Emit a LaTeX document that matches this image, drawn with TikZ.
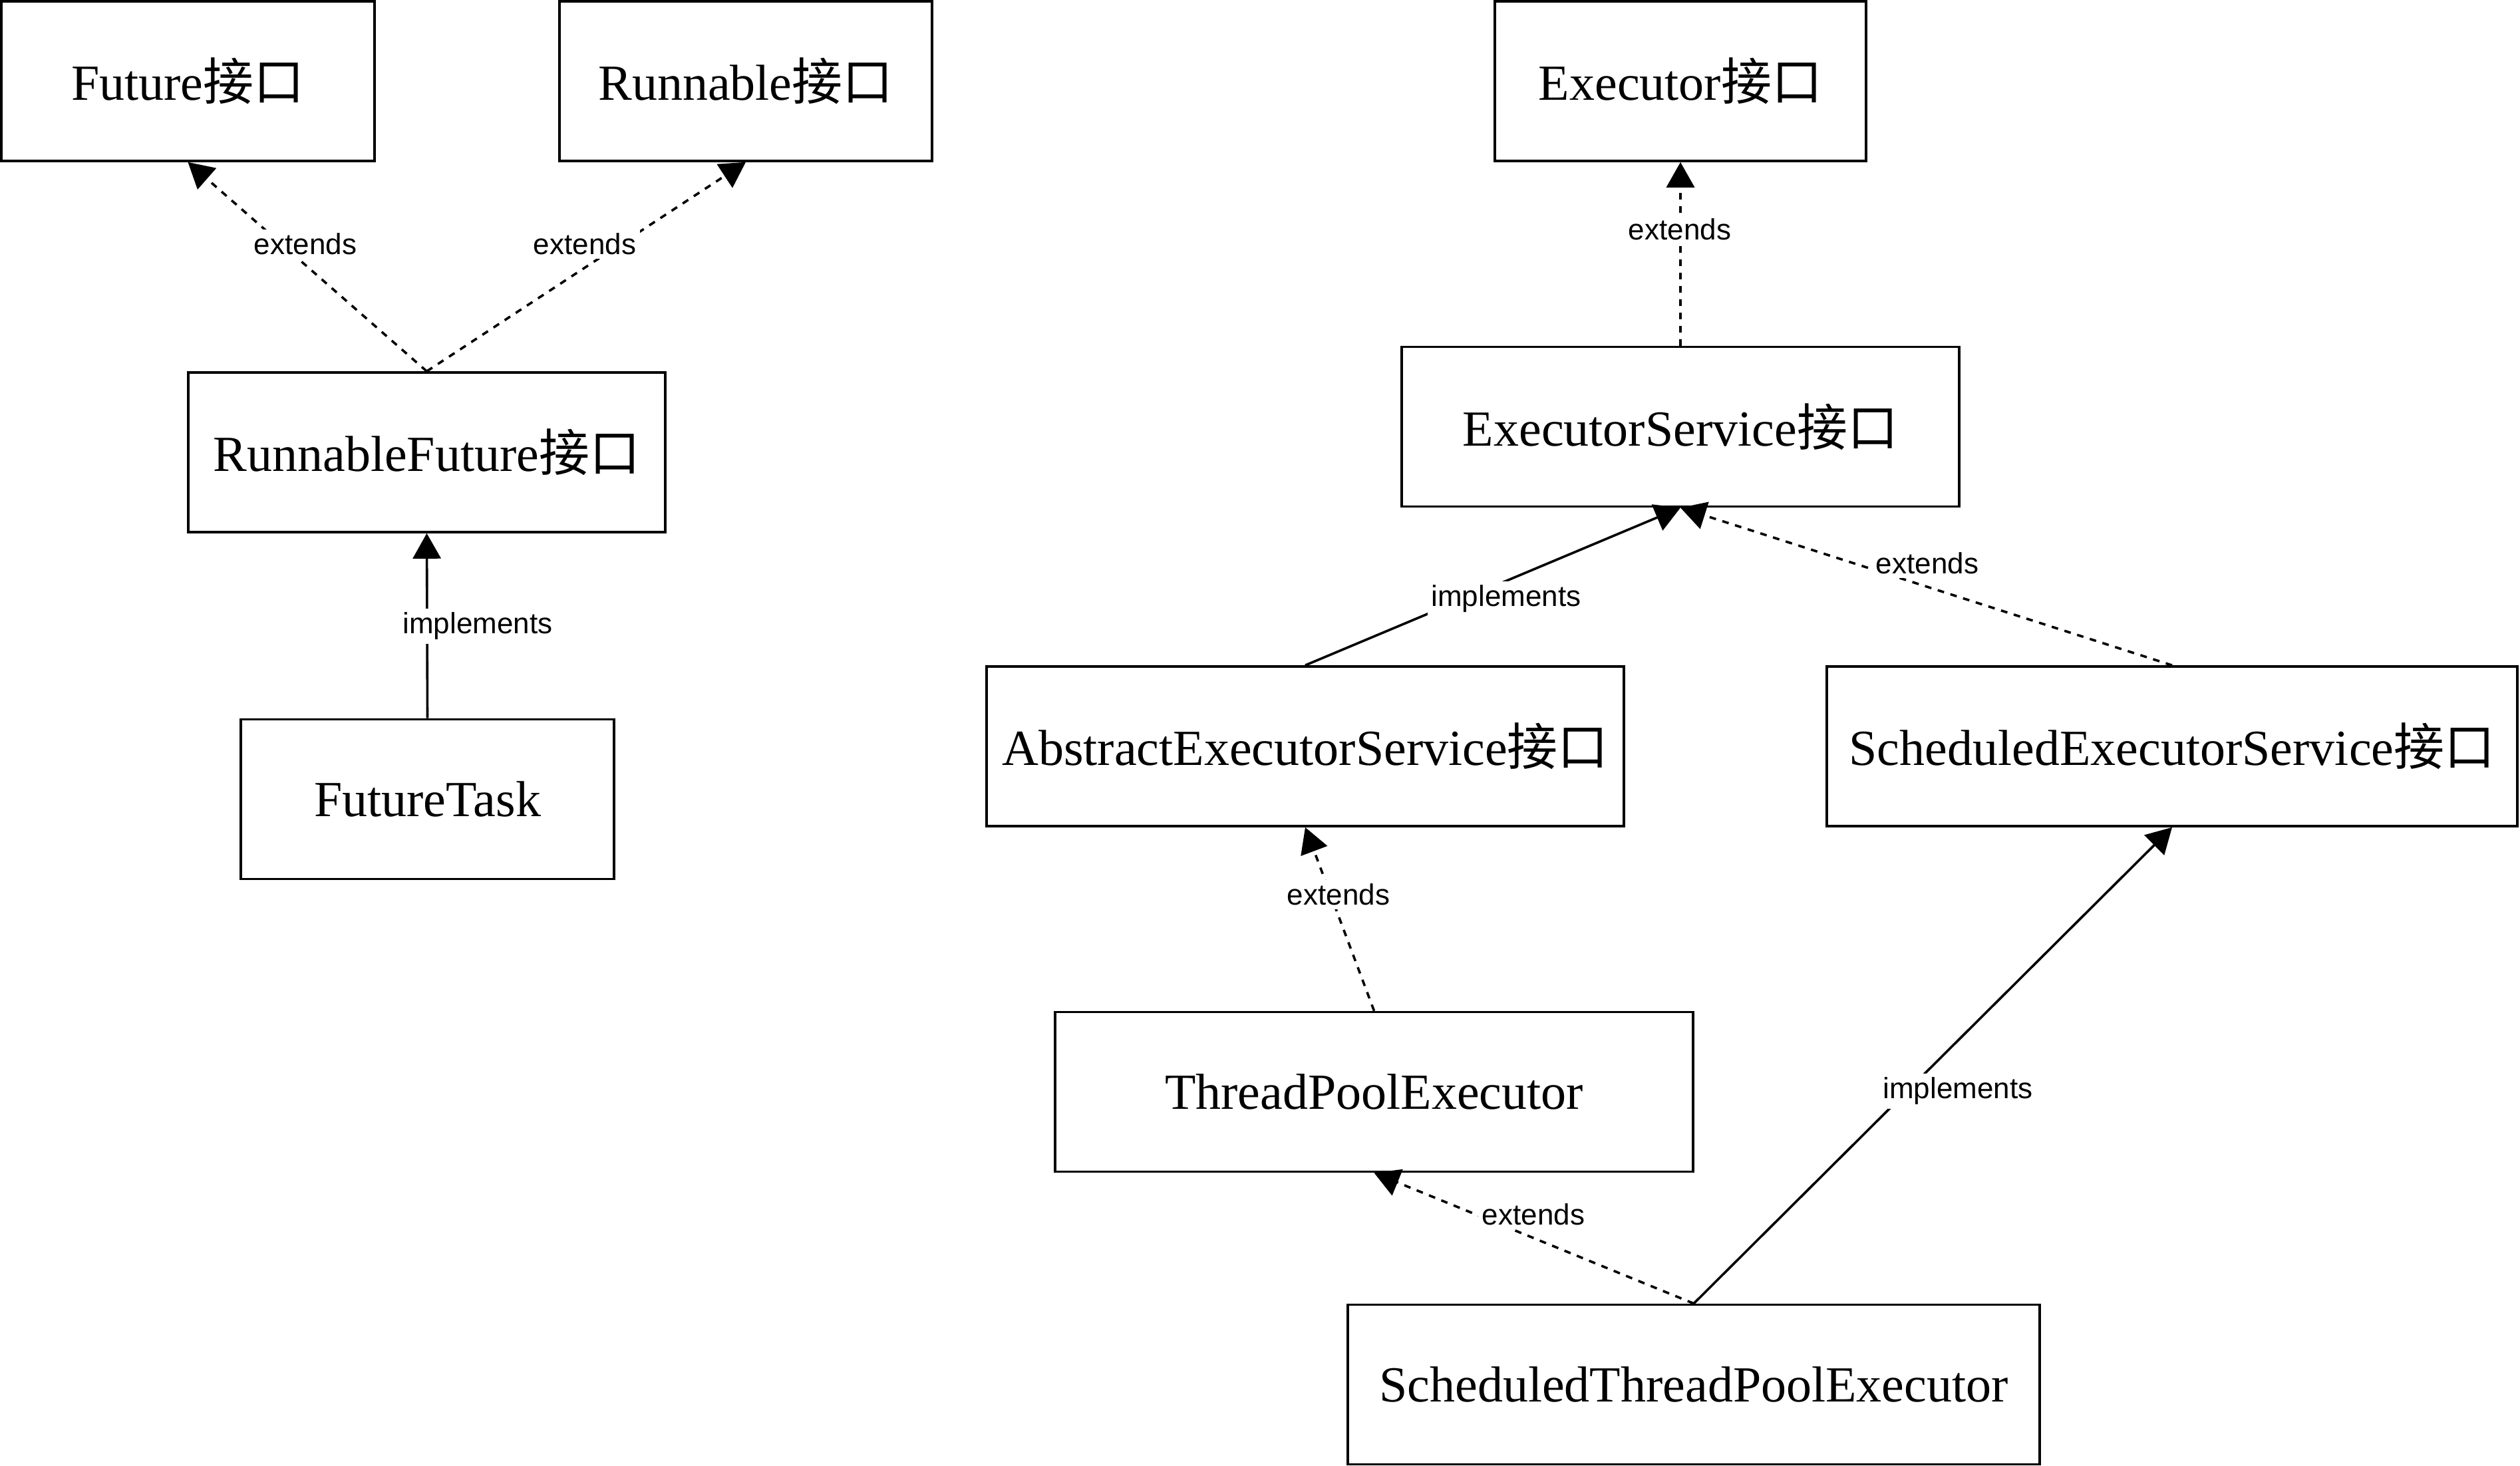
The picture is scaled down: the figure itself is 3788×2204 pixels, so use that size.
\documentclass[tikz,border=0pt]{standalone}
\usepackage{fontspec}
\setmainfont{Liberation Serif}
\newfontfamily\lblfont{Liberation Sans}
\newfontfamily\cjkfont{Noto Sans CJK SC}
\usetikzlibrary{arrows.meta}
\newcommand\jiekou{{\cjkfont 接口}}
\begin{document}
\begin{tikzpicture}[x=0.25pt,y=-0.25pt,
  box/.style={draw, line width=0.9pt, inner sep=0pt, minimum height=60pt, font=\fontsize{19}{23}\selectfont},
  lbl/.style={fill=white, inner sep=1.5pt, font=\lblfont\fontsize{11}{13}\selectfont},
  ext/.style={line width=0.9pt, dash pattern=on 2.5pt off 2.5pt, -{Triangle[length=9.5pt,width=10.5pt]}},
  imp/.style={line width=0.9pt, -{Triangle[length=9.5pt,width=10.5pt]}}]
\useasboundingbox (0,0) rectangle (3788,2204);

% boxes
\node[box, minimum width=140.25pt] (fut)  at (282.5,122)   {Future\jiekou};
\node[box, minimum width=140pt]    (run)  at (1121,122)    {Runnable\jiekou};
\node[box, minimum width=179.25pt] (rf)   at (641.5,680)   {RunnableFuture\jiekou};
\node[box, minimum width=140.25pt] (ft)   at (642.5,1201.5) {FutureTask};
\node[box, minimum width=139.5pt]  (exe)  at (2526,122)    {Executor\jiekou};
\node[box, minimum width=209.5pt]  (es)   at (2526,641.5)  {ExecutorService\jiekou};
\node[box, minimum width=239.5pt]  (aes)  at (1962,1122)   {AbstractExecutorService\jiekou};
\node[box, minimum width=259.5pt]  (ses)  at (3265,1122)   {ScheduledExecutorService\jiekou};
\node[box, minimum width=239.75pt] (tpe)  at (2065.5,1641.5) {ThreadPoolExecutor};
\node[box, minimum width=260pt]    (stpe) at (2546,2081.5) {ScheduledThreadPoolExecutor};

% connectors
\draw[ext] (rf.north) -- (fut.south);
\draw[ext] (rf.north) -- (run.south);
\draw[imp] (ft.north) -- (rf.south);
\draw[ext] (es.north) -- (exe.south);
\draw[imp] (aes.north) -- (es.south);
\draw[ext] (ses.north) -- (es.south);
\draw[ext] (tpe.north) -- (aes.south);
\draw[ext] (stpe.north) -- (tpe.south);
\draw[imp] (stpe.north) -- (ses.south);

% labels
\node[lbl] (l1) at (459,367)    {extends};
\node[lbl] (l2) at (879,367)    {extends};
\node[lbl] (l3) at (718,941)    {implements};
\node[lbl] (l4) at (2525,345)   {extends};
\node[lbl] (l5) at (2264,900)   {implements};
\node[lbl] (l6) at (2897,847)   {extends};
\node[lbl] (l7) at (2012,1345)  {extends};
\node[lbl] (l8) at (2305,1826)  {extends};
\node[lbl] (l9) at (2943,1640)  {implements};
\end{tikzpicture}
\end{document}
